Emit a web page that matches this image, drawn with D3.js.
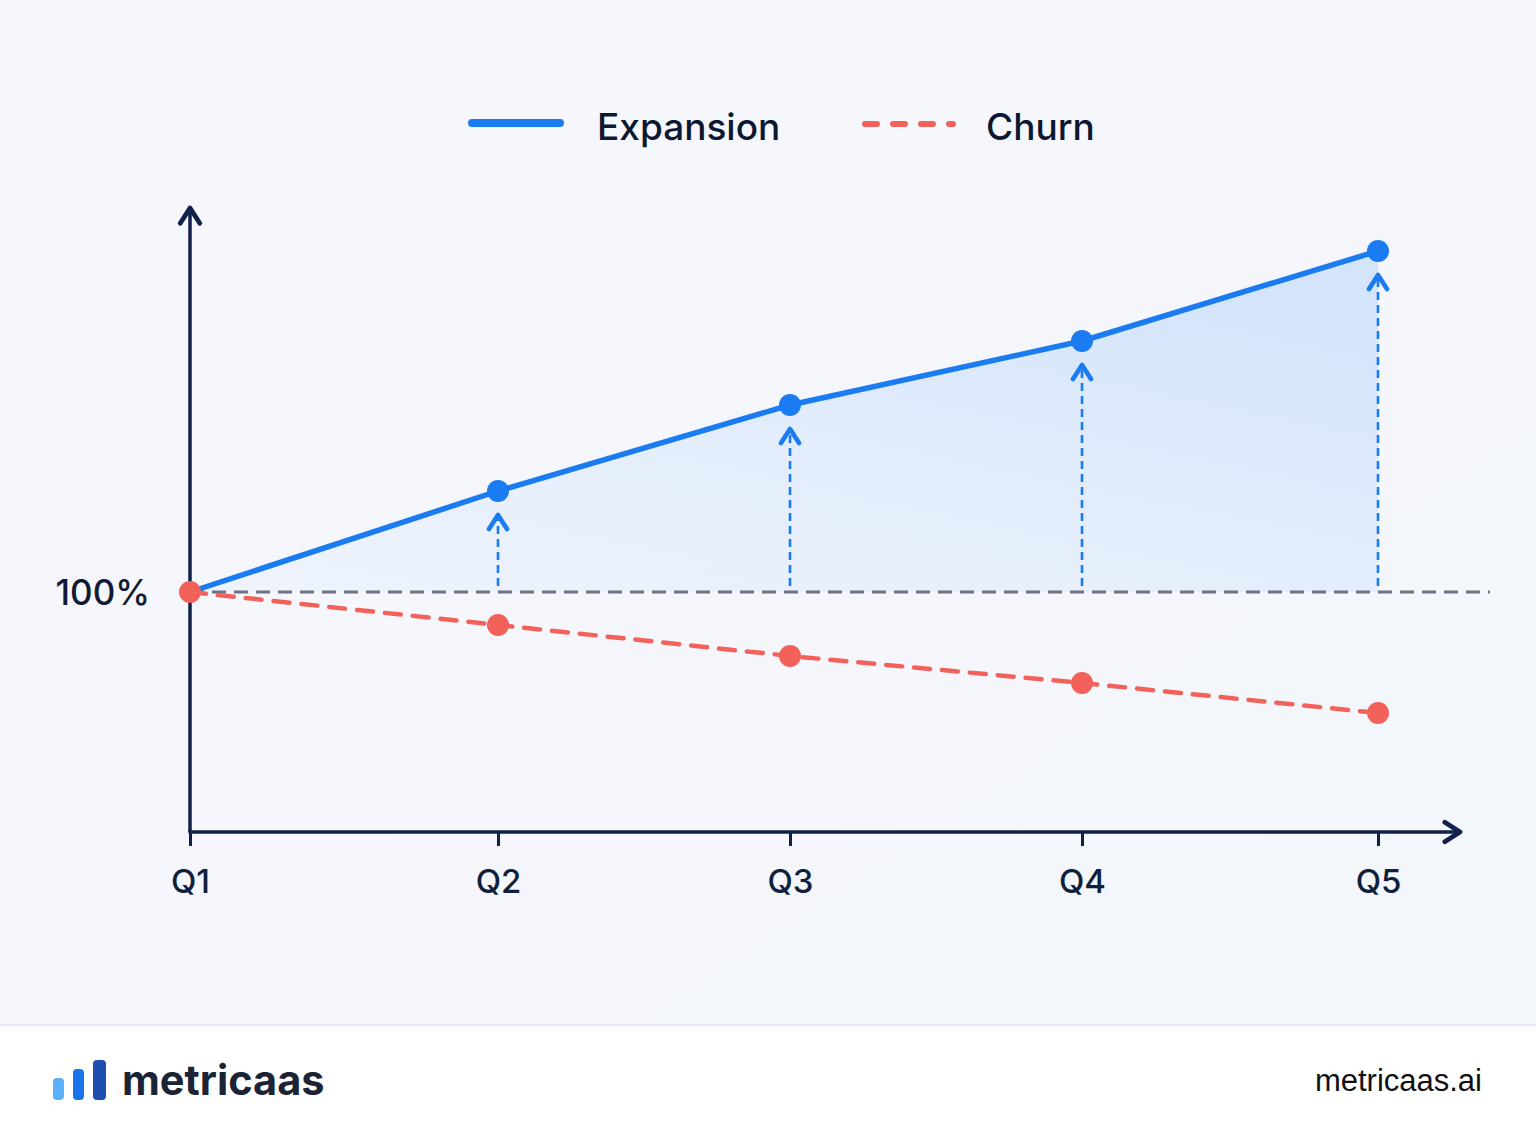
<!DOCTYPE html>
<html>
<head>
<meta charset="utf-8">
<script src="https://cdn.jsdelivr.net/npm/d3@7"></script>
<style>
  html, body { margin: 0; padding: 0; background: #f5f7fb; }
  svg { display: block; font-family: Inter, "Noto Sans", sans-serif; }
</style>
</head>
<body>
<div id="chart"></div>
<script>
// data
var quarters = ["Q1", "Q2", "Q3", "Q4", "Q5"];
var expansion = [100, 110.1, 118.7, 125.1, 134.1];
var churn = [100, 96.7, 93.6, 90.9, 87.9];
var baseline = 100;
var baselineLabel = "100%";
var seriesNames = ["Expansion", "Churn"];

var W = 1536, H = 1136;
var blue = "#1a7cf0", red = "#f2625a", navy = "#12214a", grey = "#6b7385";

var svg = d3.select("#chart").append("svg")
    .attr("width", W)
    .attr("height", H);

var defs = svg.append("defs");

var bg = defs.append("linearGradient").attr("id", "bg")
    .attr("x1", 0).attr("y1", 0).attr("x2", 1).attr("y2", 1);
bg.append("stop").attr("offset", "0%").attr("stop-color", "#f6f7fb");
bg.append("stop").attr("offset", "100%").attr("stop-color", "#f3f6fb");

var areaGrad = defs.append("linearGradient").attr("id", "areaGrad")
    .attr("x1", 0).attr("y1", 1).attr("x2", 0.7).attr("y2", 0);
areaGrad.append("stop").attr("offset", "0%").attr("stop-color", "#e8f0fc").attr("stop-opacity", 0.5);
areaGrad.append("stop").attr("offset", "100%").attr("stop-color", "#d3e4fb").attr("stop-opacity", 1);

function arrowMarker(id, color, size, sw) {
    defs.append("marker")
        .attr("id", id)
        .attr("viewBox", "0 0 12 12")
        .attr("refX", 10).attr("refY", 6)
        .attr("markerWidth", size).attr("markerHeight", size)
        .attr("markerUnits", "userSpaceOnUse")
        .attr("orient", "auto")
      .append("path")
        .attr("d", "M3,1.5 L10,6 L3,10.5")
        .attr("fill", "none")
        .attr("stroke", color)
        .attr("stroke-width", sw)
        .attr("stroke-linecap", "round")
        .attr("stroke-linejoin", "round");
}
arrowMarker("navyArrow", navy, 26, 2.2);
arrowMarker("blueArrow", blue, 24, 2.3);

svg.append("rect").attr("width", W).attr("height", 1025).attr("fill", "url(#bg)");

// scales
var x = d3.scaleOrdinal().domain(quarters).range([190, 498, 790, 1082, 1378]);
var y = d3.scaleLinear().domain([76, 139]).range([832, 202]);

var g = svg.append("g");

// area between expansion and 100%
var area = d3.area()
    .x(function(d, i) { return x(quarters[i]); })
    .y0(y(baseline))
    .y1(function(d) { return y(d); });

g.append("path")
    .datum(expansion)
    .attr("d", area)
    .attr("fill", "url(#areaGrad)");

// baseline 100%
g.append("line")
    .attr("x1", x("Q1")).attr("x2", 1490)
    .attr("y1", y(baseline)).attr("y2", y(baseline))
    .attr("stroke", grey)
    .attr("stroke-width", 3)
    .attr("stroke-dasharray", "14,8");

g.append("text")
    .attr("x", 150)
    .attr("y", y(baseline))
    .attr("dy", "0.36em")
    .attr("text-anchor", "end")
    .attr("font-size", 35)
    .attr("font-weight", 500)
    .attr("fill", "#0f1a33")
    .text(baselineLabel);

// dashed uplift arrows
g.selectAll(".uplift")
    .data(expansion.slice(1))
    .enter().append("line")
    .attr("class", "uplift")
    .attr("x1", function(d, i) { return x(quarters[i + 1]); })
    .attr("x2", function(d, i) { return x(quarters[i + 1]); })
    .attr("y1", y(baseline) - 6)
    .attr("y2", function(d) { return y(d) + 24; })
    .attr("stroke", blue)
    .attr("stroke-width", 2.6)
    .attr("stroke-dasharray", "8,5")
    .attr("marker-end", "url(#blueArrow)");

// axes
var xAxis = d3.axisBottom(x).tickSize(14).tickPadding(24).tickSizeOuter(0);
var xg = g.append("g")
    .attr("transform", "translate(0," + y(76) + ")")
    .call(xAxis);
xg.select(".domain").remove();
xg.selectAll(".tick line").attr("stroke", navy).attr("stroke-width", 3);
xg.selectAll(".tick text")
    .attr("font-size", 33)
    .attr("font-weight", 500)
    .attr("font-family", "Inter, sans-serif")
    .attr("fill", "#0f1f3d");

g.append("line")
    .attr("x1", x("Q1") - 1.5).attr("x2", 1460)
    .attr("y1", y(76)).attr("y2", y(76))
    .attr("stroke", navy).attr("stroke-width", 3.5)
    .attr("marker-end", "url(#navyArrow)");

g.append("line")
    .attr("x1", x("Q1")).attr("x2", x("Q1"))
    .attr("y1", y(76)).attr("y2", 208)
    .attr("stroke", navy).attr("stroke-width", 3.5)
    .attr("marker-end", "url(#navyArrow)");

// churn line
var line = d3.line()
    .x(function(d, i) { return x(quarters[i]); })
    .y(function(d) { return y(d); });

g.append("path")
    .datum(churn)
    .attr("d", line)
    .attr("fill", "none")
    .attr("stroke", red)
    .attr("stroke-width", 4.5)
    .attr("stroke-linecap", "round")
    .attr("stroke-dasharray", "16,12");

// expansion line
g.append("path")
    .datum(expansion)
    .attr("d", line)
    .attr("fill", "none")
    .attr("stroke", blue)
    .attr("stroke-width", 5.5)
    .attr("stroke-linejoin", "round");

g.selectAll(".expDot")
    .data(expansion.slice(1))
    .enter().append("circle")
    .attr("class", "expDot")
    .attr("cx", function(d, i) { return x(quarters[i + 1]); })
    .attr("cy", function(d) { return y(d); })
    .attr("r", 11)
    .attr("fill", blue);

g.selectAll(".churnDot")
    .data(churn)
    .enter().append("circle")
    .attr("class", "churnDot")
    .attr("cx", function(d, i) { return x(quarters[i]); })
    .attr("cy", function(d) { return y(d); })
    .attr("r", 11)
    .attr("fill", red);

// legend
var legend = svg.append("g");
legend.append("line")
    .attr("x1", 472).attr("x2", 560).attr("y1", 123).attr("y2", 123)
    .attr("stroke", blue).attr("stroke-width", 8).attr("stroke-linecap", "round");
legend.append("text")
    .attr("x", 597).attr("y", 128).attr("dy", "0.32em")
    .attr("font-size", 37).attr("font-weight", 500).attr("fill", "#0c1730")
    .text(seriesNames[0]);
legend.append("line")
    .attr("x1", 865).attr("x2", 953).attr("y1", 124).attr("y2", 124)
    .attr("stroke", red).attr("stroke-width", 6).attr("stroke-linecap", "round")
    .attr("stroke-dasharray", "12,16");
legend.append("text")
    .attr("x", 986).attr("y", 128).attr("dy", "0.32em")
    .attr("font-size", 37).attr("font-weight", 500).attr("fill", "#0c1730")
    .text(seriesNames[1]);

// footer
var footer = svg.append("g");
footer.append("rect").attr("x", 0).attr("y", 1025).attr("width", W).attr("height", H - 1025).attr("fill", "#ffffff");
footer.append("line").attr("x1", 0).attr("x2", W).attr("y1", 1025).attr("y2", 1025)
    .attr("stroke", "#e4e7ef").attr("stroke-width", 2);
var logoBars = [
    { x: 53, y: 1078, w: 11, c: "#5ab2fd" },
    { x: 73, y: 1069, w: 11, c: "#1a74ea" },
    { x: 93, y: 1060, w: 13, c: "#1d4fae" }
];
footer.selectAll(".logoBar").data(logoBars).enter().append("rect")
    .attr("x", function(d) { return d.x; })
    .attr("y", function(d) { return d.y; })
    .attr("width", function(d) { return d.w; })
    .attr("height", function(d) { return 1100 - d.y; })
    .attr("rx", 4)
    .attr("fill", function(d) { return d.c; });
footer.append("text")
    .attr("x", 122).attr("y", 1095)
    .attr("font-size", 41.5).attr("font-weight", 700).attr("fill", "#1b2436")
    .text("metricaas");
footer.append("text")
    .attr("x", 1482).attr("y", 1091)
    .attr("text-anchor", "end")
    .attr("font-size", 31).attr("fill", "#111111")
    .attr("font-family", "Liberation Sans, Arial, sans-serif")
    .text("metricaas.ai");
</script>
</body>
</html>
